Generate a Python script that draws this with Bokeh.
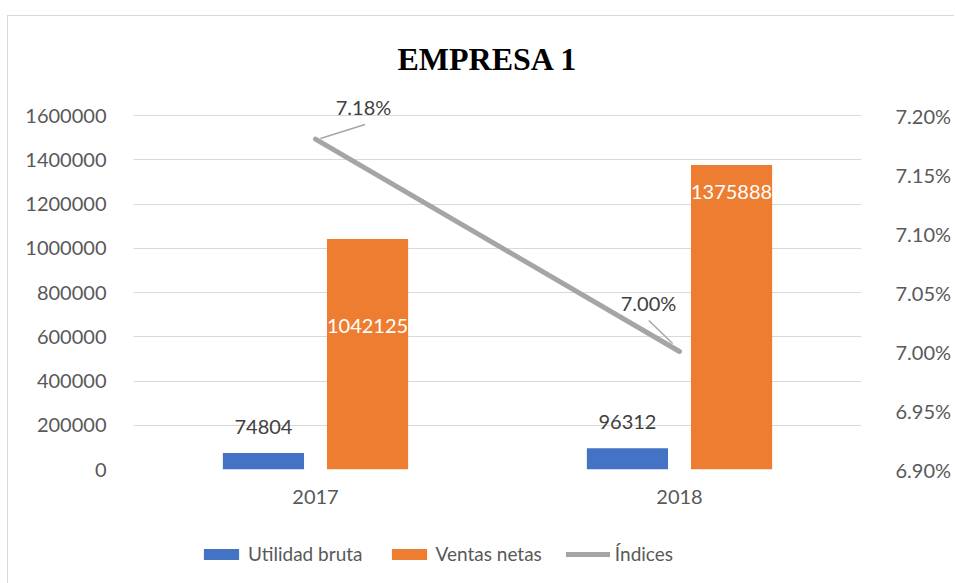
from bokeh.plotting import figure
from bokeh.layouts import column
from bokeh.models import (Range1d, LinearAxis, FixedTicker, ColumnDataSource, Legend,
                          LegendItem, PrintfTickFormatter, NumeralTickFormatter, LabelSet)
from bokeh.core.properties import value
from bokeh.embed import file_html
from bokeh.resources import INLINE

# ---------------- data ----------------
years = ["2017", "2018"]
utilidad_bruta = [74804, 96312]
ventas_netas = [1042125, 1375888]
indices_pct = [7.18, 7.00]
left_ticks = [0, 200000, 400000, 600000, 800000, 1000000, 1200000, 1400000, 1600000]
right_ticks = [6.90, 6.95, 7.00, 7.05, 7.10, 7.15, 7.20]
series_names = ["Utilidad bruta", "Ventas netas", "Índices"]

# ---------------- styles / layout ----------------
FONT = "Lato"
TXT = "#595959"
LBL = "#404040"
GRID = "#d9d9d9"
BLUE = "#4472C4"
ORANGE = "#ED7D31"
GRAY = "#A5A5A5"

W, H = 946, 506
H_LEG = 61
BORDER_L, BORDER_R, BORDER_T, BORDER_B = 125, 86, 73, 53
FRAME_W = W - BORDER_L - BORDER_R          # 735
FRAME_H = H - BORDER_T - BORDER_B          # 380
GRID_H = 354                               # px between 0 and top tick
PX_X = FRAME_W / len(years)
L_SPAN = left_ticks[-1] - left_ticks[0]
R_SPAN = right_ticks[-1] - right_ticks[0]
PX_P = GRID_H / R_SPAN

BAR_W = 0.223
DODGE = 0.143

xpos = [i + 0.5 for i in range(len(years))]

src = ColumnDataSource(dict(
    x=xpos,
    xb=[x - DODGE for x in xpos],
    xo=[x + DODGE for x in xpos],
    ub=utilidad_bruta,
    vn=ventas_netas,
    idx=indices_pct,
    ub_lbl=[str(v) for v in utilidad_bruta],
    vn_lbl=[str(v) for v in ventas_netas],
    idx_lbl=["%.2f%%" % v for v in indices_pct],
    vn_off=[-87, -27],
    pl_dx=[48, -31],
    pl_dy=[32, 49],
))

# leader lines (pixel offsets from the point, y up)
lead_start = [(5, 0.6), (-7, 8)]
lead_end = [(50, 14.6), (-31, 31)]
lsrc = ColumnDataSource(dict(
    x0=[x + s[0] / PX_X for x, s in zip(xpos, lead_start)],
    y0=[v + s[1] / PX_P for v, s in zip(indices_pct, lead_start)],
    x1=[x + e[0] / PX_X for x, e in zip(xpos, lead_end)],
    y1=[v + e[1] / PX_P for v, e in zip(indices_pct, lead_end)],
))

p = figure(width=W, height=H, output_backend="svg", toolbar_location=None,
           x_range=Range1d(0, len(years)),
           y_range=Range1d(left_ticks[0], left_ticks[0] + L_SPAN * FRAME_H / GRID_H),
           min_border_left=BORDER_L, min_border_right=BORDER_R,
           min_border_top=BORDER_T, min_border_bottom=BORDER_B)
p.outline_line_color = None
p.background_fill_color = "white"
p.border_fill_color = "white"

p.extra_y_ranges = {"pct": Range1d(right_ticks[0], right_ticks[0] + R_SPAN * FRAME_H / GRID_H)}

# title
p.title.text = "EMPRESA 1"
p.title.text_font = "Liberation Serif"
p.title.text_font_style = "bold"
p.title.text_font_size = "32px"
p.title.text_color = "black"
p.title.align = "left"
p.title.offset = 264
p.title.standoff = 25

# axes
def style_axis(ax):
    ax.axis_line_color = None
    ax.major_tick_line_color = None
    ax.minor_tick_line_color = None
    ax.major_label_text_font = FONT
    ax.major_label_text_font_size = "20px"
    ax.major_label_text_color = TXT

p.yaxis.ticker = FixedTicker(ticks=left_ticks)
p.yaxis.formatter = NumeralTickFormatter(format="0")
p.yaxis.major_label_standoff = 21
style_axis(p.yaxis[0])

p.xaxis.ticker = FixedTicker(ticks=xpos)
p.xaxis.major_label_overrides = {x: y for x, y in zip(xpos, years)}
p.xaxis.major_label_standoff = 14
style_axis(p.xaxis[0])

ax2 = LinearAxis(y_range_name="pct", ticker=FixedTicker(ticks=right_ticks),
                 formatter=PrintfTickFormatter(format="%.2f%%"))
ax2.major_label_standoff = 28
style_axis(ax2)
p.add_layout(ax2, "right")

p.xgrid.visible = False
p.ygrid.ticker = FixedTicker(ticks=left_ticks)
p.ygrid.grid_line_color = GRID
p.ygrid.grid_line_width = 1

# glyphs
bar_style = [dict(fill_color=BLUE, line_color=None), dict(fill_color=ORANGE, line_color=None)]
line_style = dict(line_color=GRAY, line_width=5, line_cap="round")

p.vbar(x="xb", top="ub", width=BAR_W, source=src, **bar_style[0])
p.vbar(x="xo", top="vn", width=BAR_W, source=src, **bar_style[1])
p.line(x="x", y="idx", source=src, y_range_name="pct", **line_style)
p.segment(x0="x0", y0="y0", x1="x1", y1="y1", source=lsrc, y_range_name="pct",
          line_color="#A6A6A6", line_width=1.5)

# labels
p.add_layout(LabelSet(x="xb", y="ub", text="ub_lbl", source=src, y_offset=26,
                      text_align="center", text_baseline="middle", text_font=value(FONT),
                      text_font_size="20px", text_color=LBL))
p.add_layout(LabelSet(x="xo", y="vn", text="vn_lbl", source=src, y_offset="vn_off",
                      text_align="center", text_baseline="middle", text_font=value(FONT),
                      text_font_size="20px", text_color="white"))
p.add_layout(LabelSet(x="x", y="idx", text="idx_lbl", source=src, y_range_name="pct",
                      x_offset="pl_dx", y_offset="pl_dy",
                      text_align="center", text_baseline="middle", text_font=value(FONT),
                      text_font_size="20px", text_color=LBL))

# ---------------- legend strip (same series as hidden renderers; only the legend shows) ----------------
pl = figure(width=W, height=H_LEG, output_backend="svg", toolbar_location=None,
            x_range=Range1d(0, len(years)), y_range=Range1d(0, 1),
            x_axis_location=None, y_axis_location=None,
            min_border_left=0, min_border_right=0, min_border_top=0, min_border_bottom=0)
pl.outline_line_color = None
pl.grid.visible = False
pl.border_fill_color = "white"
lr1 = pl.vbar(x="xb", top="ub", width=BAR_W, source=src, visible=False, **bar_style[0])
lr2 = pl.vbar(x="xo", top="vn", width=BAR_W, source=src, visible=False, **bar_style[1])
lr3 = pl.line(x="x", y="idx", source=src, visible=False, **line_style)

legend = Legend(items=[LegendItem(label=value(n), renderers=[r])
                       for n, r in zip(series_names, [lr1, lr2, lr3])],
                orientation="horizontal", location=(66, 18),
                padding=0, margin=0, spacing=24, label_standoff=5,
                glyph_width=44, glyph_height=14,
                border_line_color=None, background_fill_alpha=0,
                inactive_fill_alpha=0,
                label_text_font=FONT, label_text_font_size="19px", label_text_color=TXT)
pl.add_layout(legend)

layout = column(p, pl, spacing=0)
layout.styles = {"margin-top": "15px", "margin-left": "7px",
                 "border-left": "1px solid #d9d9d9", "border-top": "1px solid #d9d9d9"}

open("out.html", "w").write(file_html(layout, INLINE))
